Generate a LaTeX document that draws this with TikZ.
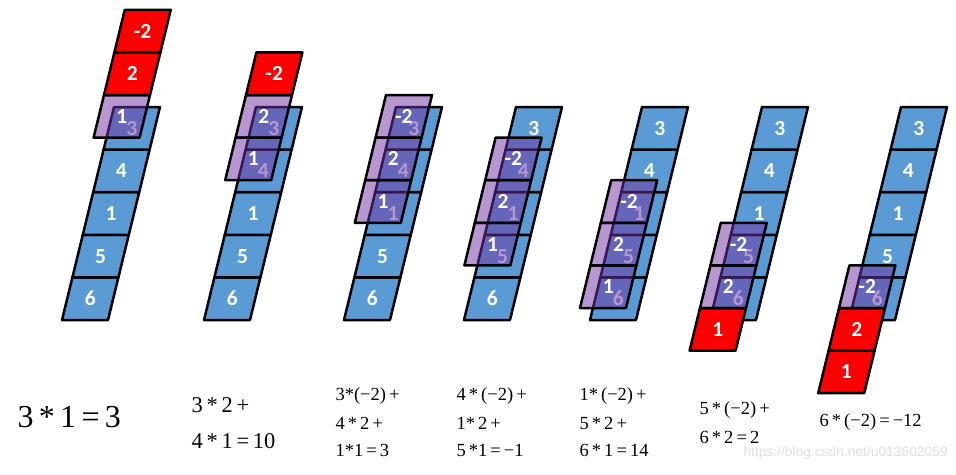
\documentclass[tikz,border=0pt]{standalone}
\usepackage{fontspec}
\setmainfont{Liberation Serif}
\newfontfamily\cellfont{Carlito}
\newfontfamily\markfont{Liberation Sans}
\definecolor{cellblue}{RGB}{91,155,213}
\definecolor{kernpurple}{RGB}{112,48,160}
\def\cw{46}
\def\ch{42.6}
\def\cs{10.4}
% one slanted cell, lower left corner at (#2,#3)
\newcommand\slcell[3]{%
  \draw[#1] (#2,#3) -- ++(\cw,0) -- ++(\cs,-\ch) -- ++(-\cw,0) -- cycle;}
\begin{document}
\begin{tikzpicture}[x=1pt,y=-1pt,
    bluecell/.style={fill=cellblue,draw=black,line width=2.5pt,line join=round},
    redcell/.style={fill=red,draw=black,line width=2.5pt,line join=round},
    kerncell/.style={fill=kernpurple,fill opacity=0.5,draw=black,line width=2.5pt,line join=round},
    lbl/.style={text=white,font=\cellfont\bfseries\fontsize{21.5}{21.5}\selectfont},
    eq/.style={anchor=west,font=\fontsize{18.5}{18.5}\selectfont}]
\useasboundingbox (0,0) rectangle (956,474);
\foreach \bx/\p [count=\col] in {62/4,204/3,344/2,464/1,590/0,710/-1,849/-2}{
  % signal column
  \foreach \lab [count=\k from 0] in {6,5,1,4,3}{
    \pgfmathsetmacro\x{\bx+\k*\cs}
    \pgfmathsetmacro\y{320-\k*\ch}
    \slcell{bluecell}{\x}{\y}
    \node[lbl] (b\col\k) at (\x+\cw/2+\cs/2,\y-\ch/2) {\lab};
  }
  % kernel, shifted up and left
  \foreach \lab [count=\j from 0] in {1,2,-2}{
    \pgfmathtruncatemacro\k{\p+\j}
    \pgfmathsetmacro\x{\bx+\k*\cs-10}
    \pgfmathsetmacro\y{320-\k*\ch-12}
    \ifnum\k<0 \def\ks{redcell}\else\ifnum\k>4 \def\ks{redcell}\else\def\ks{kerncell}\fi\fi
    \slcell{\ks}{\x}{\y}
    \node[lbl] (k\col\j) at (\x+\cw/2+\cs/2,\y-\ch/2) {\lab};
  }
}
% sums
\node[anchor=west,font=\fontsize{32}{32}\selectfont] (s1) at (14,417) {3\,*\,1\,=\,3};
\node[anchor=west,font=\fontsize{22.5}{22.5}\selectfont] (s2a) at (188,405) {3\,*\,2\,+};
\node[anchor=west,font=\fontsize{22.5}{22.5}\selectfont] (s2b) at (188,441) {4\,*\,1\,=\,10};
\node[eq] (s3a) at (332,396) {3*(−2)\,+};
\node[eq] (s3b) at (332,423) {4\,*\,2\,+};
\node[eq] (s3c) at (332,450) {1*1\,=\,3};
\node[eq] (s4a) at (453,396) {4\,*\,(−2)\,+};
\node[eq] (s4b) at (453,423) {1*\,2\,+};
\node[eq] (s4c) at (453,450) {5\,*1\,=\,−1};
\node[eq] (s5a) at (576,396) {1*\,(−2)\,+};
\node[eq] (s5b) at (576,423) {5\,*\,2\,+};
\node[eq] (s5c) at (576,450) {6\,*\,1\,=\,14};
\node[eq] (s6a) at (696,410) {5\,*\,(−2)\,+};
\node[eq] (s6b) at (696,437) {6\,*\,2\,=\,2};
\node[eq] (s7) at (816,422) {6\,*\,(−2)\,=\,−12};
\node[anchor=west,text=gray!25,font=\markfont\fontsize{13.8}{13.8}\selectfont] (mark) at (740,453) {https://blog.csdn.net/u013602059};
\end{tikzpicture}
\end{document}
